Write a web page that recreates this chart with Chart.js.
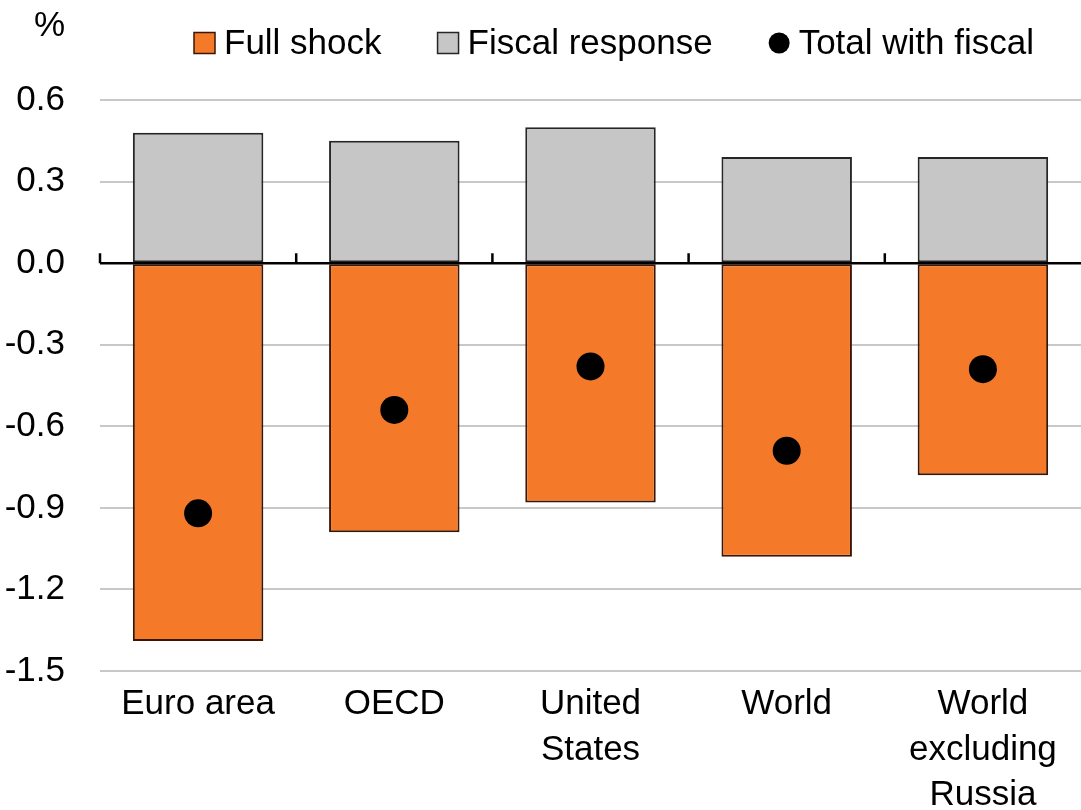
<!DOCTYPE html>
<html>
<head>
<meta charset="utf-8">
<script src="https://cdn.jsdelivr.net/npm/chart.js@4"></script>
<style>
  html, body { margin: 0; padding: 0; background: #fff; }
  #wrap { width: 1081px; height: 810px; }
</style>
</head>
<body>
<div id="wrap"><canvas id="myChart" width="1081" height="810"></canvas></div>
<script>
// data
const categories = ['Euro area', 'OECD', ['United', 'States'], 'World', ['World', 'excluding', 'Russia']];
const fullShock = [-1.39, -0.99, -0.88, -1.08, -0.78];
const fiscalResponse = [0.48, 0.45, 0.50, 0.39, 0.39];
const totalWithFiscal = [-0.92, -0.54, -0.38, -0.69, -0.39];
const yTicks = [-1.5, -1.2, -0.9, -0.6, -0.3, 0, 0.3, 0.6];

const ORANGE = '#f47a2a';
const GREY = '#c6c6c6';
const FONT = '"Liberation Sans", Arial, sans-serif';

Chart.defaults.font.family = FONT;
Chart.defaults.font.size = 35;
Chart.defaults.color = '#000';

// legend, % label and the zero line with its small ticks
const overlay = {
  id: 'overlay',
  afterDatasetsDraw(chart) {
    const { ctx, chartArea } = chart;
    const x = chart.scales.x, y = chart.scales.y;
    const y0 = y.getPixelForValue(0);
    const step = (chartArea.right - chartArea.left) / categories.length;
    ctx.save();
    ctx.strokeStyle = '#000';
    ctx.lineWidth = 2.5;
    ctx.beginPath();
    ctx.moveTo(chartArea.left, y0);
    ctx.lineTo(chartArea.right, y0);
    for (let i = 0; i < categories.length; i++) {
      const bx = x.getPixelForValue(i) - step / 2;
      ctx.moveTo(bx, y0);
      ctx.lineTo(bx, y0 - 10);
    }
    ctx.stroke();
    ctx.restore();
  },
  afterDraw(chart) {
    const ctx = chart.ctx;
    ctx.save();
    ctx.font = '35px ' + FONT;
    ctx.fillStyle = '#000';
    ctx.textBaseline = 'middle';
    ctx.textAlign = 'right';
    ctx.fillText('%', 65, 26);

    ctx.textAlign = 'left';
    let lx = 194;
    const ly = 43;
    chart.data.datasets.forEach(ds => {
      if (ds.type === 'line') {
        ctx.fillStyle = '#000';
        ctx.beginPath();
        ctx.arc(lx + 10.5, ly, 10.5, 0, Math.PI * 2);
        ctx.fill();
      } else {
        ctx.fillStyle = ds.backgroundColor;
        ctx.fillRect(lx, ly - 10.5, 21, 21);
        ctx.strokeStyle = ds.borderColor;
        ctx.lineWidth = 1.5;
        ctx.strokeRect(lx, ly - 10.5, 21, 21);
      }
      lx += 30;
      ctx.fillStyle = '#000';
      ctx.fillText(ds.label, lx, ly + 1);
      lx += ctx.measureText(ds.label).width + 56;
    });
    ctx.restore();
  }
};

const chart = new Chart(document.getElementById('myChart'), {
  type: 'bar',
  data: {
    labels: categories,
    datasets: [
      {
        label: 'Full shock',
        data: fullShock,
        backgroundColor: ORANGE,
        borderColor: '#3a1604',
        borderWidth: 2,
        borderSkipped: false,
        stack: 'bars',
        order: 2
      },
      {
        label: 'Fiscal response',
        data: fiscalResponse,
        backgroundColor: GREY,
        borderColor: '#262626',
        borderWidth: 2,
        borderSkipped: false,
        stack: 'bars',
        order: 2
      },
      {
        type: 'line',
        label: 'Total with fiscal',
        data: totalWithFiscal,
        showLine: false,
        pointRadius: 14,
        pointHoverRadius: 14,
        pointBackgroundColor: '#000',
        pointBorderWidth: 0,
        stack: 'dots',
        order: 0
      }
    ]
  },
  options: {
    responsive: false,
    animation: false,
    layout: { autoPadding: false, padding: { top: 100, left: 0, right: -4, bottom: 0 } },
    plugins: {
      legend: { display: false },
      tooltip: { enabled: false }
    },
    datasets: {
      bar: { categoryPercentage: 1, barPercentage: 0.665 }
    },
    scales: {
      x: {
        stacked: true,
        grid: { display: false, drawTicks: false },
        border: { display: false },
        ticks: { maxRotation: 0, autoSkip: false, padding: 11, font: { size: 35, lineHeight: 1.3 } },
        afterFit: s => { s.height = 139; s.paddingLeft = 0; s.paddingRight = 0; }
      },
      y: {
        stacked: true,
        min: yTicks[0],
        max: yTicks[yTicks.length - 1],
        afterBuildTicks: s => { s.ticks = yTicks.map(v => ({ value: v })); },
        afterFit: s => { s.width = 100; },
        grid: { color: '#c8c8c8', lineWidth: 2, drawTicks: false },
        border: { display: false },
        ticks: { padding: 35, callback: v => v.toFixed(1) }
      }
    }
  },
  plugins: [overlay]
});
</script>
</body>
</html>
